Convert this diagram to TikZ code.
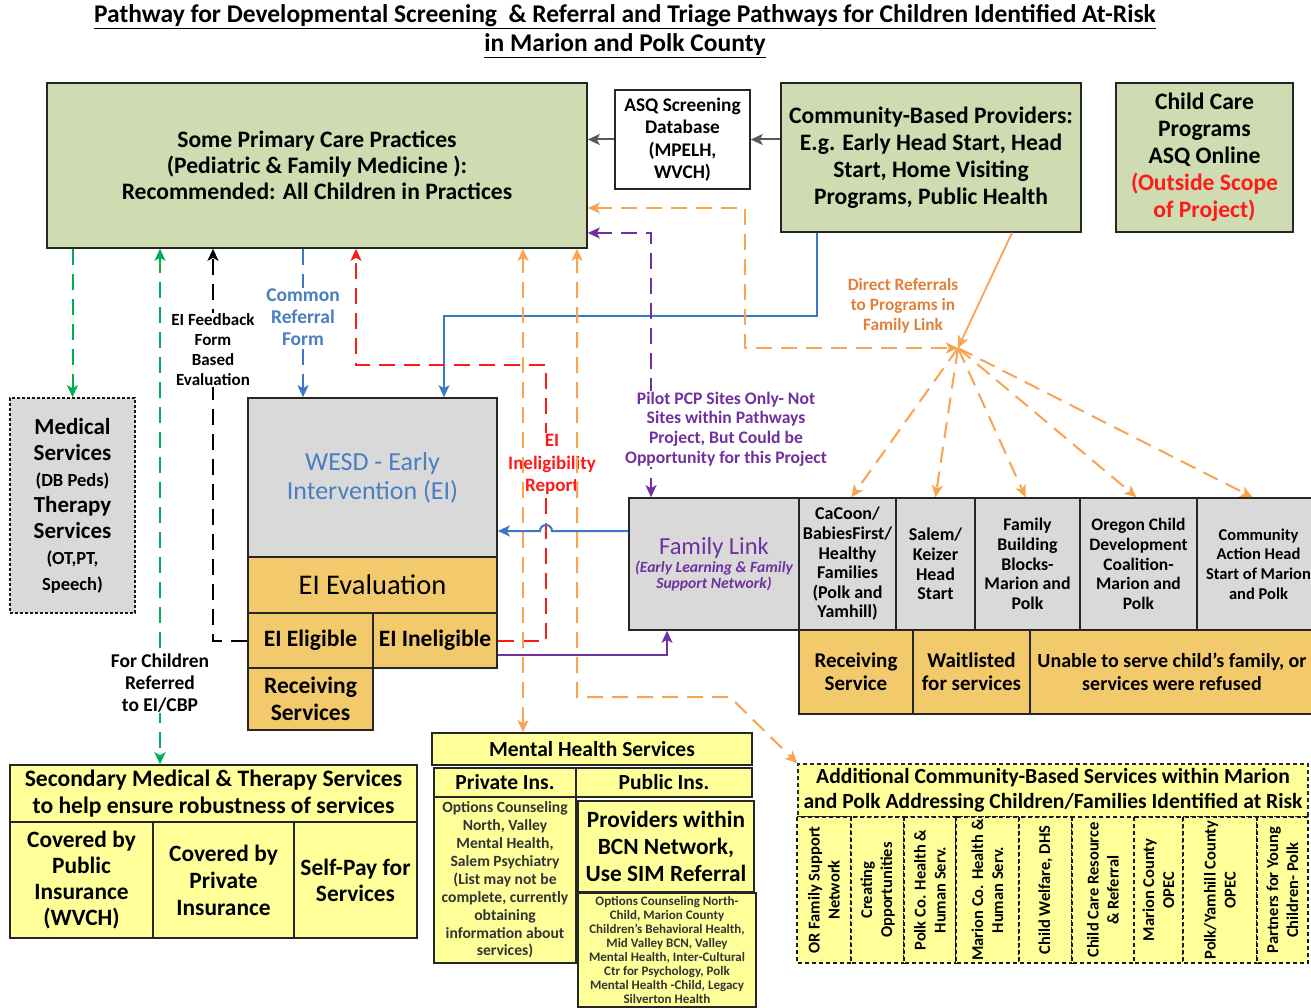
\documentclass[tikz,border=0pt]{standalone}
\usepackage{fontspec}
\setmainfont{Carlito}
\usetikzlibrary{arrows.meta,calc}
\definecolor{cgreen}{HTML}{CFDBB1}
\definecolor{cgold}{HTML}{F2CA6B}
\definecolor{cyellow}{HTML}{FFFF99}
\definecolor{cgray}{HTML}{D9D9D9}
\definecolor{corange}{HTML}{F9A452}
\definecolor{cbrown}{HTML}{E2803A}
\definecolor{cred}{HTML}{FF1A1A}
\definecolor{cpurple}{HTML}{7030A0}
\definecolor{cblue}{HTML}{3C78C8}
\definecolor{ctblue}{HTML}{4A7EC2}
\definecolor{cgline}{HTML}{00B050}
\definecolor{carrgray}{HTML}{595959}
\newcommand{\fs}[2]{\fontsize{#1}{#2}\selectfont}
\begin{document}
\begin{tikzpicture}[x=1pt,y=-1pt,
  bx/.style={draw=black!85, line width=1.6pt, inner sep=0pt, align=center, text=black},
  col/.style={draw=black!90, line width=1.5pt, dash pattern=on 4pt off 3pt, fill=cyellow, inner sep=0pt, align=center, rotate=90, font=\bfseries\fs{16.5}{20}},
  conn/.style={line width=2pt},
  tip/.style={arrows={-Stealth[length=12pt,width=11pt,inset=3pt]}},
  tips/.style={arrows={Stealth[length=12pt,width=11pt,inset=3pt]-Stealth[length=12pt,width=11pt,inset=3pt]}},
  dsh/.style={dash pattern=on 16pt off 9pt},
  lbl/.style={fill=white, inner sep=1pt, align=center, font=\bfseries}
]
\useasboundingbox (0,0) rectangle (1311,1008);
\clip (0,0) rectangle (1311,1008);
\fill[white] (0,0) rectangle (1311,1008);

% title
\node[font=\bfseries\fs{25.5}{28}] (title1) at (625,17) {\underline{Pathway for Developmental Screening\ \ \& Referral and Triage Pathways for Children Identified At-Risk}};
\node[font=\bfseries\fs{25.5}{28}] (title2) at (625,46) {\underline{in Marion and Polk County}};

% top row
\node[bx, fill=cgreen, minimum width=540pt, minimum height=165pt, font=\bfseries\fs{23.6}{26}] (PCP) at (317,165.5) {Some Primary Care Practices\\(Pediatric \& Family Medicine ):\\Recommended: All Children in Practices};
\node[bx, fill=white, minimum width=135pt, minimum height=99pt, font=\bfseries\fs{19.3}{22.5}] (ASQ) at (682.5,139.5) {ASQ Screening\\Database\\(MPELH,\\WVCH)};
\node[bx, fill=cgreen, minimum width=300pt, minimum height=149pt, font=\bfseries\fs{23.6}{27}] (CBP) at (931,157.5) {Community-Based Providers:\\E.g. Early Head Start, Head\\Start, Home Visiting\\Programs, Public Health};
\node[bx, fill=cgreen, minimum width=177pt, minimum height=149pt, font=\bfseries\fs{23.6}{27}] (CCP) at (1204.5,157.5) {Child Care\\Programs\\ASQ Online\\\textcolor{cred}{(Outside Scope}\\\textcolor{cred}{of Project)}};

% medical
\node[bx, fill=cgray, draw=black!90, dash pattern=on 3pt off 2pt, minimum width=125pt, minimum height=215pt, font=\bfseries\fs{23}{26}] (Med) at (72.5,505.5) {Medical\\Services\\{\fs{18.5}{26}(DB Peds)}\\Therapy\\Services\\{\fs{18.5}{26}(OT,PT,}\\{\fs{18.5}{26}Speech)}};

% EI block
\node[bx, fill=cgray, minimum width=249pt, minimum height=159pt, font=\fs{26}{29}, text=ctblue] (WESD) at (372.5,477.5) {WESD - Early\\Intervention (EI)};
\node[bx, fill=cgold, minimum width=249pt, minimum height=56pt, font=\fs{28.5}{30}] (EIEval) at (372.5,585) {EI Evaluation};
\node[bx, fill=cgold, minimum width=125pt, minimum height=55pt, font=\bfseries\fs{23.5}{26}] (EIElig) at (310.5,640.5) {EI Eligible};
\node[bx, fill=cgold, minimum width=124pt, minimum height=55pt, font=\bfseries\fs{23.5}{26}] (EIInel) at (435,640.5) {\raisebox{3pt}{EI Ineligible}};
\node[bx, fill=cgold, minimum width=125pt, minimum height=62pt, font=\bfseries\fs{23.5}{27}] (RecvEI) at (310.5,699) {Receiving\\Services};

% Family Link row
\node[bx, fill=cgray, minimum width=170pt, minimum height=132pt, text=cpurple] (FL) at (714,564) {{\fs{24.5}{22}Family Link}\\[2pt]{\bfseries\itshape\fs{15.6}{20}(Early Learning \& Family}\\{\bfseries\itshape\fs{15.6}{20}Support Network)}};
\node[bx, fill=cgray, minimum width=97pt, minimum height=132pt, font=\bfseries\fs{18}{19.6}] (CaCoon) at (847.5,564) {CaCoon/\\BabiesFirst/\\Healthy\\Families\\(Polk and\\Yamhill)};
\node[bx, fill=cgray, minimum width=79pt, minimum height=132pt, font=\bfseries\fs{18}{19.6}] (Salem) at (935.5,564) {Salem/\\Keizer\\Head\\Start};
\node[bx, fill=cgray, minimum width=105pt, minimum height=132pt, font=\bfseries\fs{17.8}{19.6}] (FBB) at (1027.5,564) {Family\\Building\\Blocks-\\Marion and\\Polk};
\node[bx, fill=cgray, minimum width=117pt, minimum height=132pt, font=\bfseries\fs{17.5}{19.6}] (OCDC) at (1138.5,564) {Oregon Child\\Development\\Coalition-\\Marion and\\Polk};
\node[bx, fill=cgray, minimum width=123pt, minimum height=132pt, font=\bfseries\fs{16.5}{19.6}] (CAH) at (1258.5,564) {Community\\Action Head\\Start of Marion\\and Polk};
\node[bx, fill=cgold, minimum width=114pt, minimum height=84pt, font=\bfseries\fs{21}{23}] (RecvSvc) at (856,672) {Receiving\\Service};
\node[bx, fill=cgold, minimum width=117pt, minimum height=84pt, font=\bfseries\fs{21}{23}] (Wait) at (971.5,672) {Waitlisted\\for services};
\node[bx, fill=cgold, minimum width=284pt, minimum height=84pt, font=\bfseries\fs{20}{23}] (Unable) at (1172,672) {Unable to serve child’s family, or\\services were refused};

% Mental health
\node[bx, fill=cyellow, minimum width=320pt, minimum height=32pt, font=\bfseries\fs{21.5}{22}] (MHH) at (592,749) {Mental Health Services};
\node[bx, fill=cyellow, minimum width=142pt, minimum height=29pt, font=\bfseries\fs{21.5}{22}] (PrivIns) at (505,782.5) {Private Ins.};
\node[bx, fill=cyellow, minimum width=176pt, minimum height=29pt, font=\bfseries\fs{21.5}{22}] (PubIns) at (664,782.5) {Public Ins.};
\node[bx, fill=cyellow, minimum width=142pt, minimum height=166pt, font=\bfseries\fs{15.6}{17.9}, text=black!80] (PrivBody) at (505,880) {Options Counseling\\North, Valley\\Mental Health,\\Salem Psychiatry\\(List may not be\\complete, currently\\obtaining\\information about\\services)};
\node[bx, fill=cyellow, minimum width=176pt, minimum height=91pt, font=\bfseries\fs{23.3}{27}] (Prov) at (666,846.5) {Providers within\\BCN Network,\\Use SIM Referral};
\node[bx, fill=cyellow, minimum width=178pt, minimum height=114pt, font=\bfseries\fs{13}{13.9}, text=black!80] (PubBody) at (667,950) {Options Counseling North-\\Child, Marion County\\Children’s Behavioral Health,\\Mid Valley BCN, Valley\\Mental Health, Inter-Cultural\\Ctr for Psychology, Polk\\Mental Health -Child, Legacy\\Silverton Health};

% Secondary
\node[bx, fill=cyellow, minimum width=407pt, minimum height=57pt, font=\bfseries\fs{23.6}{27}] (SecH) at (213.5,793.5) {Secondary Medical \& Therapy Services\\to help ensure robustness of services};
\node[bx, fill=cyellow, minimum width=143pt, minimum height=116pt, font=\bfseries\fs{23.4}{26}] (CovPub) at (81.5,880) {Covered by\\Public\\Insurance\\(WVCH)};
\node[bx, fill=cyellow, minimum width=141pt, minimum height=116pt, font=\bfseries\fs{23.4}{27}] (CovPriv) at (223.5,880) {Covered by\\Private\\Insurance};
\node[bx, fill=cyellow, minimum width=123pt, minimum height=116pt, font=\bfseries\fs{23.4}{26}] (SelfPay) at (355.5,880) {Self-Pay for\\Services};

% Additional
\node[bx, fill=cyellow, dash pattern=on 4pt off 3pt, minimum width=510pt, minimum height=53pt, font=\bfseries\fs{21.6}{25}] (Add) at (1053,790.5) {Additional Community-Based Services within Marion\\and Polk Addressing Children/Families Identified at Risk};
\node[col, minimum width=146pt, minimum height=54pt] (A1) at (824,890) {OR Family Support\\Network};
\node[col, minimum width=146pt, minimum height=53pt] (A2) at (877.5,890) {Creating\\Opportunities};
\node[col, minimum width=146pt, minimum height=52pt] (A3) at (930,890) {Polk Co. Health \&\\Human Serv.};
\node[col, minimum width=146pt, minimum height=63pt] (A4) at (987.5,890) {Marion Co. Health \&\\Human Serv.};
\node[col, minimum width=146pt, minimum height=53pt] (A5) at (1045.5,890) {Child Welfare, DHS};
\node[col, minimum width=146pt, minimum height=62pt] (A6) at (1103,890) {Child Care Resource\\\& Referral};
\node[col, minimum width=146pt, minimum height=49pt] (A7) at (1158.5,890) {Marion County\\OPEC};
\node[col, minimum width=146pt, minimum height=74pt] (A8) at (1220,890) {Polk/Yamhill County\\OPEC};
\node[col, minimum width=146pt, minimum height=51pt] (A9) at (1282.5,890) {Partners for Young\\Children- Polk};

% coordinates
\coordinate (g2) at (160,0);
\coordinate (k1) at (213,0);
\coordinate (c1) at (303,0);
\coordinate (b1) at (817,0);
\coordinate (b2) at (444,316);
\coordinate (h1) at (546,531);
\coordinate (r1) at (546,0);
\coordinate (r2) at (356,365);
\coordinate (o1x) at (523,0);
\coordinate (o2x) at (577,0);
\coordinate (o2b) at (730,697);
\coordinate (o3) at (745,208);
\coordinate (o4) at (1012,0);
\coordinate (hub) at (958,348);
\coordinate (p2) at (651,233);
\coordinate (p3) at (667,655);

% gray arrows
\draw[conn, carrgray, tip] (CBP.west |- ASQ.west) -- (ASQ.east);
\draw[conn, carrgray, tip] (ASQ.west) -- (PCP.east |- ASQ.west);

% green
\draw[conn, cgline, dsh, tip] (PCP.south -| Med.north) -- (Med.north);
\draw[conn, cgline, dsh, tips] (g2 |- PCP.south) -- (g2 |- SecH.north);
% black
\draw[conn, black, dsh, tip] (EIElig.west) -- (EIElig.west -| k1) -- (k1 |- PCP.south);
% blue
\draw[conn, cblue, dsh, tip] (c1 |- PCP.south) -- (c1 |- WESD.north);
\draw[conn, cblue, tip] (b1 |- CBP.south) |- (b2) -- (b2 |- WESD.north);
% red
\draw[conn, cred, dsh, tip] (EIInel.east) -- (r1 |- EIInel.east) -- (r1 |- r2) -- (r2) -- (r2 |- PCP.south);
\draw[conn, cblue, tip] (FL.west |- h1) -- ([xshift=6pt]h1) arc (0:180:6pt) -- (WESD.east |- h1);
% purple
\draw[conn, cpurple, dsh, tips] (PCP.east |- p2) -- (p2) -- (p2 |- FL.north);
\draw[conn, cpurple, line width=1.8pt, tip] (EIInel.east |- p3) -- (p3) -- (p3 |- FL.south);

% labels on lines
\node[lbl, font=\bfseries\fs{17}{20}] (lblFb) at (213,350) {EI Feedback\\Form\\Based\\Evaluation};
\node[lbl, font=\bfseries\fs{19.5}{22}, text=ctblue] (lblCr) at (303,317) {Common\\Referral\\Form};
\node[lbl, font=\bfseries\fs{19}{22.5}, text=cred] (lblIr) at (552,464.5) {EI\\Ineligibility\\Report};
\node[lbl, font=\bfseries\fs{17.6}{19.7}, text=cpurple] (lblPp) at (726,429) {Pilot PCP Sites Only- Not\\Sites within Pathways\\Project, But Could be\\Opportunity for this Project};
\node[lbl, font=\bfseries\fs{19.5}{22}] (lblFc) at (160,683) {For Children\\Referred\\to EI/CBP};
\node[lbl, fill=none, font=\bfseries\fs{17.3}{20}, text=cbrown] (lblDr) at (903,306) {Direct Referrals\\to Programs in\\Family Link};

% orange
\draw[conn, corange, dsh, tips] (o1x |- PCP.south) -- (o1x |- MHH.north);
\draw[conn, corange, dsh, tips] (o2x |- PCP.south) -- (o2x |- o2b) -- (o2b) -- (Add.north west);
\draw[conn, corange, dsh, tips] (PCP.east |- o3) -- (o3) -- (o3 |- hub) -- (hub);
\draw[conn, corange, line width=1.8pt, tip] (o4 |- CBP.south) -- (hub);
\draw[conn, corange, dsh, tip] (hub) -- ([xshift=4pt]CaCoon.north);
\draw[conn, corange, dsh, tip] (hub) -- (Salem.north);
\draw[conn, corange, dsh, tip] (hub) -- ([xshift=-2pt]FBB.north);
\draw[conn, corange, dsh, tip] (hub) -- ([xshift=-2pt]OCDC.north);
\draw[conn, corange, dsh, tip] (hub) -- ([xshift=-6pt]CAH.north);
\end{tikzpicture}
\end{document}
